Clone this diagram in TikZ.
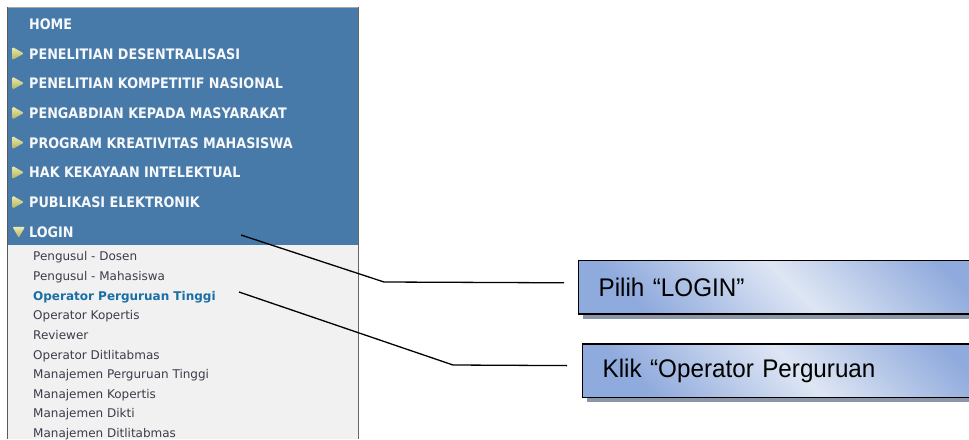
\documentclass[tikz,border=0pt]{standalone}
\usepackage{fontspec}
\setmainfont{Liberation Sans}
\newfontfamily\menufont[FakeStretch=0.88]{DejaVu Sans}
\newfontfamily\subfont{DejaVu Sans}
\newfontfamily\boxfont[FakeStretch=0.95]{Liberation Sans}
\usetikzlibrary{shadows}

\definecolor{menublue}{RGB}{71,122,168}
\definecolor{menugray}{RGB}{241,241,241}
\definecolor{subtext}{RGB}{60,60,75}
\definecolor{subactive}{RGB}{25,110,165}
\definecolor{trilight}{RGB}{236,236,176}
\definecolor{tridark}{RGB}{176,176,92}
\definecolor{boxlight}{RGB}{222,230,244}
\definecolor{boxdark}{RGB}{143,170,220}
\definecolor{boxshade}{RGB}{139,150,168}

\begin{document}
\begin{tikzpicture}[x=1pt, y=-1pt,
          menu/.style={anchor=base west, inner sep=0pt, text=white!95!menublue,
            font=\menufont\bfseries\fontsize{14.5}{16}\selectfont},
          submenu/.style={anchor=base west, inner sep=0pt, text=subtext,
            font=\subfont\fontsize{12}{14}\selectfont},
          active/.style={submenu, text=subactive,
            font=\subfont\bfseries\fontsize{12}{14}\selectfont},
          tri/.style={top color=trilight, bottom color=tridark, rounded corners=1.2pt},
          leader/.style={line width=1.3pt},
          callout/.style={draw=black, line width=1.3pt, anchor=north west,
            minimum height=53.3pt, text width=390pt, inner xsep=20pt, align=left,
            top color=boxdark, bottom color=boxdark, middle color=boxlight, shading angle=-45,
            drop shadow={shadow xshift=4pt, shadow yshift=-5pt, fill=boxshade, opacity=1},
            font=\boxfont\fontsize{25.5}{28}\selectfont},
        ]
        \useasboundingbox (0,0) rectangle (969,439);
        \clip (0,0) rectangle (969,439);

        % menu panel
        \fill[menublue] (8,8) rectangle (358,245);
        \fill[menugray] (8,245) rectangle (358,439);
        \draw[line width=1.5pt, gray!70] (7,7.5) -- (359,7.5);
        \draw[line width=1.5pt, black!65] (7.5,7) -- (7.5,439);
        \draw[line width=1.5pt, black!60] (358.5,7) -- (358.5,439);

        \node[menu] (home)       at (29,29.3)  {HOME};
        \node[menu] (desentral)  at (29,59)    {PENELITIAN DESENTRALISASI};
        \node[menu] (kompetitif) at (29,88.7)  {PENELITIAN KOMPETITIF NASIONAL};
        \node[menu] (pengabdian) at (29,118.4) {PENGABDIAN KEPADA MASYARAKAT};
        \node[menu] (pkm)        at (29,148.1) {PROGRAM KREATIVITAS MAHASISWA};
        \node[menu] (hki)        at (29,177.9) {HAK KEKAYAAN INTELEKTUAL};
        \node[menu] (publikasi)  at (29,207.6) {PUBLIKASI ELEKTRONIK};
        \node[menu] (login)      at (29,237.3) {LOGIN};

        \foreach \m in {desentral,kompetitif,pengabdian,pkm,hki,publikasi}
          \shade[tri] ([shift={(-16.5,-12)}]\m.base west) -- ++(11.5,6.5) -- ++(-11.5,6.5) -- cycle;
        \shade[tri] ([shift={(-16.5,-10.5)}]login.base west) -- ++(12.5,0) -- ++(-6.25,11) -- cycle;

        \node[submenu] (dosen)          at (33,260.7) {Pengusul - Dosen};
        \node[submenu] (mahasiswa)      at (33,280.4) {Pengusul - Mahasiswa};
        \node[active]  (operatorpt)     at (33,300)   {Operator Perguruan Tinggi};
        \node[submenu] (kopertis)       at (33,319.7) {Operator Kopertis};
        \node[submenu] (reviewer)       at (33,339.3) {Reviewer};
        \node[submenu] (ditlitabmas)    at (33,359)   {Operator Ditlitabmas};
        \node[submenu] (manpt)          at (33,378.6) {Manajemen Perguruan Tinggi};
        \node[submenu] (mankopertis)    at (33,398.3) {Manajemen Kopertis};
        \node[submenu] (mandikti)       at (33,417.9) {Manajemen Dikti};
        \node[submenu] (manditlitabmas) at (33,437.6) {Manajemen Ditlitabmas};

        % callouts
        \node[callout] (pilih) at (578,260)   {Pilih “LOGIN”};
        \node[callout] (klik)  at (582,343.3) {Klik “Operator Perguruan};

        \coordinate (loginmark) at (241,235);
        \coordinate (opmark)    at (239,292);
        \draw[leader] (loginmark) -- (384,282) -- ([shift={(-14,-4.5)}]pilih.west);
        \draw[leader] (opmark) -- (453,365) -- ([shift={(-15,-5)}]klik.west);
      \end{tikzpicture}
\end{document}
